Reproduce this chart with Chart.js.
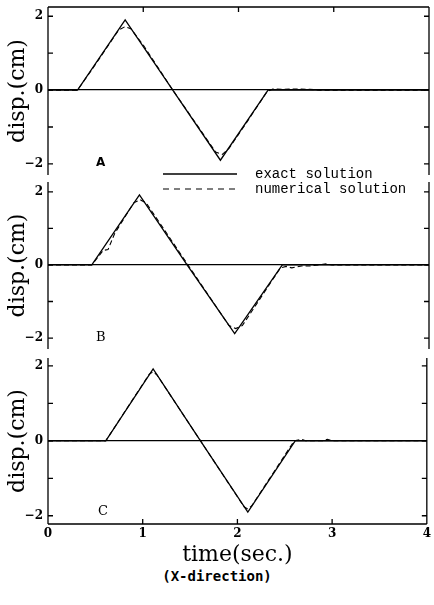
<!DOCTYPE html>
<html lang="en">
<head>
<meta charset="UTF-8">
<title>disp. vs time (X-direction)</title>
<script src="https://cdn.jsdelivr.net/npm/chart.js"></script>
<style>
  body { margin: 0; background: #fff; }
  #wrap { position: relative; width: 434px; height: 605px; background: #fff; overflow: hidden; }
  canvas { position: absolute; left: 0; }
  .tag { position: absolute; font-family: 'DejaVu Serif', serif; font-size: 13px; color: #000; line-height: 1; }
  #legend { position: absolute; left: 160px; top: 165px; width: 260px; height: 32px; }
  #legend svg { position: absolute; left: 0; top: 0; }
  #legend span { position: absolute; left: 95px; font-family: 'Liberation Mono', monospace; font-size: 14px; line-height: 1; color: #000; }
  #caption { position: absolute; left: 0; width: 434px; top: 568px; text-align: center;
             font-family: 'DejaVu Sans Mono', monospace; font-weight: bold; font-size: 14px; color: #000; }
</style>
</head>
<body>
<div id="wrap">
  <canvas id="chartA" width="434" height="180" style="top:0px"></canvas>
  <canvas id="chartB" width="434" height="172" style="top:180px"></canvas>
  <canvas id="chartC" width="434" height="216" style="top:352px"></canvas>

  <div class="tag" style="left:96px; top:156px; font-family:'DejaVu Sans',sans-serif; font-weight:bold; font-size:12px">A</div>
  <div class="tag" style="left:96px; top:330px">B</div>
  <div class="tag" style="left:98px; top:504px">C</div>

  <div id="legend">
    <svg width="90" height="32">
      <line x1="3" y1="9" x2="77" y2="9" stroke="#000" stroke-width="1.3"/>
      <line x1="3" y1="24" x2="77" y2="24" stroke="#000" stroke-width="1.2" stroke-dasharray="6,5"/>
    </svg>
    <span style="top:2px">exact solution</span>
    <span style="top:17px">numerical solution</span>
  </div>

  <div id="caption">(X-direction)</div>
</div>

<script>
  /*** DATOS ***/
  const xTickValues = [0, 1, 2, 3, 4];
  const yTickValues = [-2, -1, 0, 1, 2];

  // panel A
  const timeExactA = [0, 0.31, 0.81, 1.31, 1.81, 2.31, 4];
  const exactA     = [0, 0, 1.90, 0, -1.90, 0, 0];
  const timeNumA   = [0, 0.31, 0.50, 0.74, 0.81, 0.87, 1.00, 1.31, 1.60, 1.76, 1.83, 1.90, 2.10, 2.30, 2.36, 2.45, 2.60, 2.75, 2.85, 4];
  const numA       = [0, 0, 0.70, 1.62, 1.72, 1.66, 1.22, 0, -1.08, -1.68, -1.74, -1.58, -0.82, -0.04, 0.03, 0.02, 0.03, 0.02, 0, 0];

  // panel B
  const timeExactB = [0, 0.46, 0.96, 1.46, 1.96, 2.46, 4];
  const exactB     = [0, 0, 1.92, 0, -1.88, 0, 0];
  const timeNumB   = [0, 0.46, 0.58, 0.63, 0.70, 0.90, 0.97, 1.03, 1.47, 1.90, 1.97, 2.04, 2.44, 2.50, 2.56, 2.66, 2.75, 2.92, 2.98, 4];
  const numB       = [0, 0, 0.40, 0.42, 0.86, 1.70, 1.78, 1.70, 0, -1.66, -1.74, -1.66, -0.08, -0.04, -0.08, -0.03, -0.03, 0.03, 0, 0];

  // panel C
  const timeExactC = [0, 0.61, 1.11, 1.61, 2.11, 2.61, 4];
  const exactC     = [0, 0, 1.92, 0, -1.90, 0, 0];
  const timeNumC   = [0, 0.61, 1.07, 1.11, 1.15, 1.61, 2.07, 2.11, 2.15, 2.60, 2.68, 2.72, 2.90, 2.95, 3.00, 4];
  const numC       = [0, 0, 1.78, 1.84, 1.76, 0, -1.76, -1.82, -1.74, 0, 0.04, 0, 0, 0.04, 0, 0];

  const toPoints = (xs, ys) => xs.map((x, i) => ({ x, y: ys[i] }));

  /*** MARCO CON TICKS HACIA DENTRO ***/
  const framePlugin = {
    id: 'frame',
    afterDraw(chart, args, opts) {
      const { ctx, chartArea: a, scales: { x, y } } = chart;
      const len = 5;
      ctx.save();
      ctx.strokeStyle = '#000';
      ctx.lineWidth = 1.3;
      ctx.beginPath();
      ctx.moveTo(a.left, a.top); ctx.lineTo(a.left, a.bottom);
      ctx.moveTo(a.right, a.top); ctx.lineTo(a.right, a.bottom);
      yTickValues.forEach(v => {
        const py = y.getPixelForValue(v);
        ctx.moveTo(a.left, py); ctx.lineTo(a.left + len, py);
        ctx.moveTo(a.right, py); ctx.lineTo(a.right - len, py);
      });
      if (opts.top) {
        ctx.moveTo(a.left, a.top); ctx.lineTo(a.right, a.top);
        xTickValues.slice(1, -1).forEach(v => {
          const px = x.getPixelForValue(v);
          ctx.moveTo(px, a.top); ctx.lineTo(px, a.top + len);
        });
      }
      if (opts.bottom) {
        ctx.moveTo(a.left, a.bottom); ctx.lineTo(a.right, a.bottom);
        xTickValues.slice(1, -1).forEach(v => {
          const px = x.getPixelForValue(v);
          ctx.moveTo(px, a.bottom); ctx.lineTo(px, a.bottom - len);
        });
      }
      ctx.stroke();
      ctx.restore();
    }
  };

  /*** CREAR UN PANEL ***/
  function makePanel(id, tExact, exact, tNum, num, cfg) {
    const ctx = document.getElementById(id).getContext('2d');
    return new Chart(ctx, {
      type: 'line',
      data: {
        datasets: [
          { label: 'exact solution', data: toPoints(tExact, exact), borderColor: '#000', borderWidth: 1.3, pointRadius: 0, tension: 0 },
          { label: 'numerical solution', data: toPoints(tNum, num), borderColor: '#000', borderWidth: 1.1, borderDash: [5, 3], pointRadius: 0, tension: 0 }
        ]
      },
      options: {
        responsive: false,
        animation: false,
        devicePixelRatio: 1,
        layout: { padding: { top: cfg.padTop, bottom: cfg.padBottom, left: 0, right: 5 } },
        plugins: {
          legend: { display: false },
          tooltip: { enabled: false },
          frame: { top: !!cfg.top, bottom: !!cfg.bottom }
        },
        scales: {
          x: {
            type: 'linear',
            min: 0, max: 4,
            display: !!cfg.showX,
            afterFit: s => { if (cfg.showX) s.height = 44; },
            afterBuildTicks: s => { s.ticks = xTickValues.map(v => ({ value: v })); },
            grid: { display: false, drawTicks: false },
            border: { display: false },
            ticks: {
              padding: 3,
              color: '#000',
              font: { family: 'DejaVu Serif', size: 12, weight: 'bold' },
              maxRotation: 0
            },
            title: {
              display: true,
              text: 'time(sec.)',
              color: '#000',
              padding: 0,
              font: { family: 'DejaVu Serif', size: 22 }
            }
          },
          y: {
            min: cfg.yMin, max: cfg.yMax,
            afterFit: s => { s.width = 48; s.paddingTop = 0; s.paddingBottom = 0; },
            afterBuildTicks: s => { s.ticks = yTickValues.map(v => ({ value: v })); },
            grid: {
              drawTicks: false,
              color: c => c.tick && c.tick.value === 0 ? '#000' : 'rgba(0,0,0,0)',
              lineWidth: 1.3
            },
            border: { display: false },
            ticks: {
              padding: 5,
              color: '#000',
              font: { family: 'DejaVu Serif', size: 12, weight: 'bold' },
              callback: v => v % 2 === 0 ? (v < 0 ? '\u2212' + Math.abs(v) : String(v)) : ''
            },
            title: {
              display: true,
              text: 'disp.(cm)',
              color: '#000',
              padding: { top: 5, bottom: 0 },
              font: { family: 'DejaVu Serif', size: 22 }
            }
          }
        }
      },
      plugins: [framePlugin]
    });
  }

  makePanel('chartA', timeExactA, exactA, timeNumA, numA, { padTop: 7, padBottom: 5, yMin: -2.3, yMax: 2.25, top: true });
  makePanel('chartB', timeExactB, exactB, timeNumB, numB, { padTop: 2, padBottom: 3, yMin: -2.3, yMax: 2.27 });
  makePanel('chartC', timeExactC, exactC, timeNumC, numC, { padTop: 6, padBottom: 0, yMin: -2.22, yMax: 2.21, bottom: true, showX: true });
</script>
</body>
</html>
